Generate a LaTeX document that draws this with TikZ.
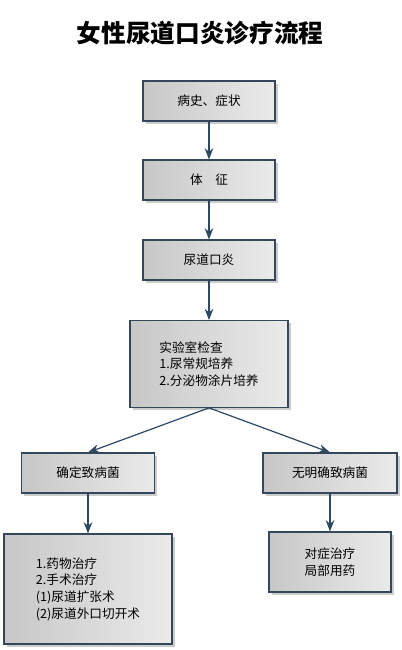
\documentclass[tikz,border=0pt]{standalone}
\usepackage{fontspec}
\setmainfont{Noto Sans CJK SC}
\usetikzlibrary{positioning}
\usetikzlibrary{arrows.meta, shadows}

\definecolor{boxline}{HTML}{34475C}
\definecolor{linkblue}{HTML}{2E4763}

\tikzset{
  stepbox/.style={draw=boxline, line width=0.8pt, left color=black!22, right color=black!8,
    inner sep=0pt, minimum width=99pt, minimum height=30pt,
    font=\fontsize{9.5}{12.5}\selectfont,
    drop shadow={shadow xshift=2pt, shadow yshift=-2pt, fill=black!40, opacity=0.5}},
  link/.style={draw=linkblue, line width=0.9pt, -{Stealth[length=8.5pt,width=6.5pt]}}
}

\begin{document}
\begin{tikzpicture}[x=0.75pt, y=-0.75pt]
        \useasboundingbox (0,0) rectangle (402,650);
        \node (Title) at (200,33) {\fontsize{18.5}{22}\selectfont\bfseries 女性尿道口炎诊疗流程};

        \node (History)[stepbox] at (209,101) {病史、症状};
        \node (Signs)[stepbox] at (209,180) {体\quad 征};
        \node (Urethritis)[stepbox] at (209,260) {尿道口炎};
        \node (Lab)[stepbox, minimum width=118.5pt, minimum height=65pt, align=left] at (209,364)
            {实验室检查\\1.尿常规培养\\2.分泌物涂片培养};
        \node (Known)[stepbox, minimum width=100pt] at (88,473) {确定致病菌};
        \node (Unknown)[stepbox, minimum width=100.5pt] at (330,473) {无明确致病菌};
        \node (Therapy)[stepbox, minimum width=126pt, minimum height=82.5pt, align=left] at (88,589)
            {1.药物治疗\\2.手术治疗\\(1)尿道扩张术\\(2)尿道外口切开术};
        \node (Symptomatic)[stepbox, minimum width=91.5pt, minimum height=45pt, align=center] at (330,562)
            {对症治疗\\局部用药};

        \draw [link] (History) -- (Signs);
        \draw [link] (Signs) -- (Urethritis);
        \draw [link] (Urethritis) -- (Lab);
        \draw [link] (Lab.south) -- (Known.north);
        \draw [link] (Lab.south) -- (Unknown.north);
        \draw [link] (Known) -- (Therapy);
        \draw [link] (Unknown) -- (Symptomatic);
    \end{tikzpicture}
\end{document}
